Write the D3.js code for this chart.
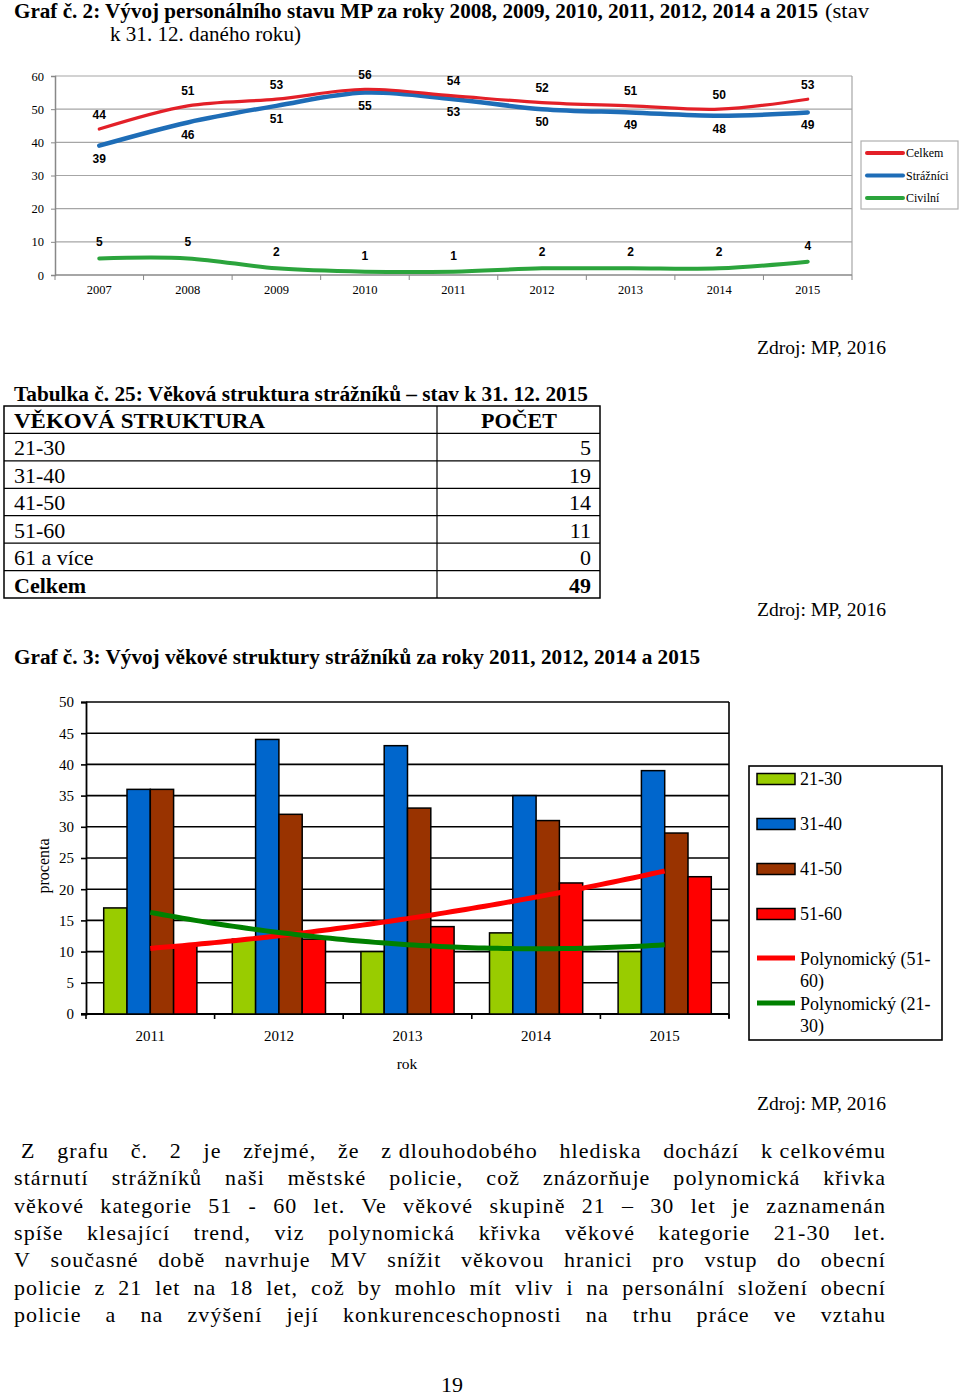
<!DOCTYPE html>
<html><head><meta charset="utf-8">
<script src="https://cdn.jsdelivr.net/npm/d3@7"></script>
<style>
body{margin:0;background:#fff;}
#page{position:relative;width:960px;height:1396px;overflow:hidden;background:#fff;}
svg{position:absolute;left:0;top:0;}
</style>
</head><body><div id="page"></div>
<script>
// ---------- DATA ----------
const years1 = ["2007","2008","2009","2010","2011","2012","2013","2014","2015"];
const celkem = [44,51,53,56,54,52,51,50,53];
const straznici = [39,46,51,55,53,50,49,48,49];
const civilni = [5,5,2,1,1,2,2,2,4];
const seriesNames1 = ["Celkem","Strážníci","Civilní"];
const ticks1 = [0,10,20,30,40,50,60];

const ageRows = ["21-30","31-40","41-50","51-60","61 a více","Celkem"];
const ageCounts = [5,19,14,11,0,49];
const tableHead = ["VĚKOVÁ STRUKTURA","POČET"];

const years2 = ["2011","2012","2013","2014","2015"];
const ageGroups = ["21-30","31-40","41-50","51-60"];
const g2130 = [17,12,10,13,10];
const g3140 = [36,44,43,35,39];
const g4150 = [36,32,33,31,29];
const g5160 = [11,12,14,21,22];
const ticks2 = [0,5,10,15,20,25,30,35,40,45,50];
const trendNames = [["Polynomický (51-","60)"],["Polynomický (21-","30)"]];

const paragraph = [
 "Z grafu č. 2 je zřejmé, že z\u00a0dlouhodobého hlediska dochází k\u00a0celkovému",
 "stárnutí strážníků naši městské policie, což znázorňuje polynomická křivka",
 "věkové kategorie 51 - 60 let. Ve věkové skupině 21 – 30 let je zaznamenán",
 "spíše klesající trend, viz polynomická křivka věkové kategorie 21-30 let.",
 "V současné době navrhuje MV snížit věkovou hranici pro vstup do obecní",
 "policie z 21 let na 18 let, což by mohlo mít vliv i na personální složení obecní",
 "policie a na zvýšení její konkurenceschopnosti na trhu práce ve vztahu"
];

// ---------- SETUP ----------
const SERIF = "'Liberation Serif','Times New Roman',serif";
const SANS = "'Liberation Sans',Arial,sans-serif";
const svg = d3.select("#page").append("svg").attr("width",960).attr("height",1396);

function text(g, x, y, s, o={}) {
  const t = g.append("text").attr("x",x).attr("y",y).text(s)
    .attr("font-family", o.family || SERIF)
    .attr("font-size", o.size || 20)
    .attr("font-weight", o.weight || "normal")
    .attr("fill", o.fill || "#000")
    .attr("text-anchor", o.anchor || "start");
  if (o.ls) t.attr("letter-spacing", o.ls);
  if (o.len) t.attr("textLength", o.len).attr("lengthAdjust","spacingAndGlyphs");
  return t;
}

// ---------- TITLE 1 ----------
text(svg, 14, 18, "Graf č. 2: Vývoj personálního stavu MP za roky 2008, 2009, 2010, 2011, 2012, 2014 a 2015", {size:20, weight:"bold", len:804});
text(svg, 825, 18, "(stav", {size:20, len:44});
text(svg, 110, 41, "k 31. 12. daného roku)", {size:20, len:191});

// ---------- CHART 1 ----------
(function(){
  const g = svg.append("g");
  const L=55, R=852, T=76, B=275;
  const x = d3.scaleBand().domain(years1).range([L,R]);
  const y = d3.scaleLinear().domain([0,60]).range([B,T]);
  const bw = x.bandwidth();
  const cx = d => x(d) + bw/2;
  const grid = "#a6a6a6";
  ticks1.filter(t=>t>0).forEach(t=>{
    g.append("line").attr("x1",L).attr("x2",R).attr("y1",y(t)).attr("y2",y(t)).attr("stroke",grid).attr("stroke-width",1.2);
  });
  g.append("line").attr("x1",R).attr("x2",R).attr("y1",T).attr("y2",B).attr("stroke",grid).attr("stroke-width",1.2);
  const ya = g.append("g").attr("transform",`translate(${L},0)`).call(d3.axisLeft(y).tickValues(ticks1).tickSize(4).tickPadding(7));
  ya.select(".domain").attr("stroke","#888").attr("stroke-width",1.5);
  ya.selectAll(".tick line").attr("stroke","#888");
  ya.selectAll(".tick text").attr("font-family",SERIF).attr("font-size",12.5).attr("fill","#000");
  g.append("line").attr("x1",L).attr("x2",R).attr("y1",B).attr("y2",B).attr("stroke","#888").attr("stroke-width",1.5);
  years1.concat(["end"]).forEach((yr,i)=>{
    const px = i<years1.length ? x(yr) : R;
    g.append("line").attr("x1",px).attr("x2",px).attr("y1",B).attr("y2",B+5).attr("stroke","#888");
  });
  years1.forEach(yr=> text(g, cx(yr), 294, yr, {size:12.5, anchor:"middle"}));

  const cols = ["#e32028","#1e6db7","#2ba43c"];
  const line = d3.line().x((d,i)=>cx(years1[i])).y(d=>y(d)).curve(d3.curveCatmullRom.alpha(0.5));
  g.append("path").attr("d",line(civilni)).attr("fill","none").attr("stroke",cols[2]).attr("stroke-width",4).attr("stroke-linecap","round");
  g.append("path").attr("d",line(straznici)).attr("fill","none").attr("stroke",cols[1]).attr("stroke-width",4.5).attr("stroke-linecap","round");
  g.append("path").attr("d",line(celkem)).attr("fill","none").attr("stroke",cols[0]).attr("stroke-width",3.2).attr("stroke-linecap","round");
  const lab = {size:12, weight:"bold", family:SANS, anchor:"middle"};
  celkem.forEach((v,i)=> text(g, cx(years1[i]), y(v)-10.5, v, lab));
  straznici.forEach((v,i)=> text(g, cx(years1[i]), y(v)+17, v, lab));
  civilni.forEach((v,i)=> text(g, cx(years1[i]), y(v)-12, v, lab));

  const lg = g.append("g");
  lg.append("rect").attr("x",861).attr("y",141).attr("width",97).attr("height",68).attr("fill","#fff").attr("stroke","#b0b0b0").attr("stroke-width",1.2);
  const ly = d3.scalePoint().domain(seriesNames1).range([153,198]);
  seriesNames1.forEach((n,i)=>{
    lg.append("line").attr("x1",867).attr("x2",903).attr("y1",ly(n)).attr("y2",ly(n)).attr("stroke",cols[i]).attr("stroke-width",4).attr("stroke-linecap","round");
    text(lg, 906, ly(n)+4, n, {size:12});
  });
})();

// ---------- ZDROJ ----------
[354, 616, 1110].forEach(yy => text(svg, 757, yy, "Zdroj: MP, 2016", {size:18, len:129}));

// ---------- TABLE ----------
(function(){
  const g = svg.append("g");
  text(g, 14, 401, "Tabulka č. 25: Věková struktura strážníků – stav k 31. 12. 2015", {size:20, weight:"bold", len:574});
  const rows = ["head"].concat(ageRows);
  const ry = d3.scaleBand().domain(rows).range([406,598]);
  const xL=4, xM=437, xR=600;
  g.append("rect").attr("x",xL).attr("y",406).attr("width",xR-xL).attr("height",192).attr("fill","none").attr("stroke","#000").attr("stroke-width",1.5);
  g.append("line").attr("x1",xM).attr("x2",xM).attr("y1",406).attr("y2",598).attr("stroke","#000").attr("stroke-width",1.2);
  rows.slice(1).forEach(r=> g.append("line").attr("x1",xL).attr("x2",xR).attr("y1",ry(r)).attr("y2",ry(r)).attr("stroke","#000").attr("stroke-width",1.2));
  text(g, 14, ry("head")+22, tableHead[0], {size:22, weight:"bold", len:251});
  text(g, 519, ry("head")+22, tableHead[1], {size:22, weight:"bold", anchor:"middle"});
  ageRows.forEach((r,i)=>{
    const b = i===ageRows.length-1 ? "bold" : "normal";
    text(g, 14, ry(r)+22, r, {size:22, weight:b});
    text(g, 591, ry(r)+22, ageCounts[i], {size:22, weight:b, anchor:"end"});
  });
})();

// ---------- CHART 2 ----------
text(svg, 14, 664, "Graf č. 3: Vývoj věkové struktury strážníků za roky 2011, 2012, 2014 a 2015", {size:20, weight:"bold", len:686});
(function(){
  const g = svg.append("g");
  const L=86, R=729, T=702, B=1014;
  const x0 = d3.scaleBand().domain(years2).range([L,R]);
  const x1 = d3.scaleBand().domain(ageGroups).range([0,x0.bandwidth()]).paddingOuter(0.76);
  const y = d3.scaleLinear().domain([0,50]).range([B,T]);
  const vals = [g2130,g3140,g4150,g5160];
  const cols = ["#99cc00","#0066cc","#993300","#ff0000"];
  ticks2.filter(t=>t>0).forEach(t=>{
    g.append("line").attr("x1",L).attr("x2",R).attr("y1",y(t)).attr("y2",y(t)).attr("stroke","#000").attr("stroke-width",1.6);
  });
  g.append("line").attr("x1",R).attr("x2",R).attr("y1",T).attr("y2",B+4).attr("stroke","#000").attr("stroke-width",1.6);
  const ya = g.append("g").attr("transform",`translate(${L},0)`).call(d3.axisLeft(y).tickValues(ticks2).tickSize(5).tickPadding(7));
  ya.select(".domain").attr("stroke","#000").attr("stroke-width",1.8);
  ya.selectAll(".tick line").attr("stroke","#000").attr("stroke-width",1.6);
  ya.selectAll(".tick text").attr("font-family",SERIF).attr("font-size",15).attr("fill","#000");
  g.append("line").attr("x1",L-5).attr("x2",R).attr("y1",B).attr("y2",B).attr("stroke","#000").attr("stroke-width",1.8);
  years2.concat(["end"]).forEach((yr,i)=>{
    const px = i<years2.length ? x0(yr) : R;
    g.append("line").attr("x1",px).attr("x2",px).attr("y1",B).attr("y2",B+5).attr("stroke","#000").attr("stroke-width",1.6);
  });
  years2.forEach((yr,i)=>{
    ageGroups.forEach((ag,j)=>{
      const v = vals[j][i];
      g.append("rect").attr("x",x0(yr)+x1(ag)).attr("y",y(v)).attr("width",x1.bandwidth()).attr("height",B-y(v))
        .attr("fill",cols[j]).attr("stroke","#000").attr("stroke-width",1.5);
    });
  });
  function fitQuad(ys){
    const S=[0,0,0,0,0], Tv=[0,0,0];
    ys.forEach((v,i)=>{ for(let k=0;k<5;k++) S[k]+=Math.pow(i,k); for(let k=0;k<3;k++) Tv[k]+=v*Math.pow(i,k); });
    const A=[[S[0],S[1],S[2],Tv[0]],[S[1],S[2],S[3],Tv[1]],[S[2],S[3],S[4],Tv[2]]];
    for(let c=0;c<3;c++){ for(let r=c+1;r<3;r++){ const f=A[r][c]/A[c][c]; for(let k=c;k<4;k++) A[r][k]-=f*A[c][k]; } }
    const co=[0,0,0];
    for(let r=2;r>=0;r--){ let s=A[r][3]; for(let k=r+1;k<3;k++) s-=A[r][k]*co[k]; co[r]=s/A[r][r]; }
    return t=>co[0]+co[1]*t+co[2]*t*t;
  }
  const xt = d3.scaleLinear().domain([0,years2.length-1]).range([x0(years2[0])+x0.bandwidth()/2, x0(years2[years2.length-1])+x0.bandwidth()/2]);
  const ts = d3.range(0, years2.length-1+0.001, 0.05);
  const tl = d3.line().x(d=>xt(d[0])).y(d=>y(d[1]));
  const fR = fitQuad(g5160), fG = fitQuad(g2130);
  g.append("path").attr("d",tl(ts.map(t=>[t,fR(t)]))).attr("fill","none").attr("stroke","#ff0000").attr("stroke-width",5);
  g.append("path").attr("d",tl(ts.map(t=>[t,fG(t)]))).attr("fill","none").attr("stroke","#008000").attr("stroke-width",5);
  years2.forEach(yr=> text(g, x0(yr)+x0.bandwidth()/2, 1041, yr, {size:15, anchor:"middle"}));
  text(g, 407, 1069, "rok", {size:15.5, anchor:"middle"});
  text(g, 0, 0, "procenta", {size:16, anchor:"middle"}).attr("transform","translate(49,866) rotate(-90)");
  const lg = g.append("g");
  lg.append("rect").attr("x",749).attr("y",766).attr("width",193).attr("height",274).attr("fill","#fff").attr("stroke","#000").attr("stroke-width",1.6);
  const ly = d3.scaleLinear().domain([0,1]).range([779,824]);
  ageGroups.forEach((ag,j)=>{
    const cy = ly(j);
    lg.append("rect").attr("x",757).attr("y",cy-5.5).attr("width",38).attr("height",11).attr("fill",cols[j]).attr("stroke","#000").attr("stroke-width",1.5);
    text(lg, 800, cy+6, ag, {size:18});
  });
  const tcols = ["#ff0000","#008000"];
  trendNames.forEach((nm,k)=>{
    const cy = ly(4+k);
    lg.append("line").attr("x1",757).attr("x2",795).attr("y1",cy-1).attr("y2",cy-1).attr("stroke",tcols[k]).attr("stroke-width",5);
    text(lg, 800, cy+6, nm[0], {size:18});
    text(lg, 800, cy+28, nm[1], {size:18});
  });
})();

// ---------- PARAGRAPH (justified) ----------
(function(){
  const g = svg.append("g");
  paragraph.forEach((ln,i)=>{
    const left = i===0 ? 21 : 14, right = 886;
    const yy = 1158 + i*27.3;
    const words = ln.split(" ");
    const nodes = words.map(w=> text(g, 0, yy, w, {size:22, ls:1.1}));
    const widths = nodes.map(n=> n.node().getComputedTextLength());
    const gap = (right-left-d3.sum(widths))/(words.length-1);
    let cx = left;
    nodes.forEach((n,k)=>{ n.attr("x",cx); cx += widths[k]+gap; });
  });
  text(g, 452, 1392, "19", {size:22, anchor:"middle"});
})();
</script>
</body></html>
